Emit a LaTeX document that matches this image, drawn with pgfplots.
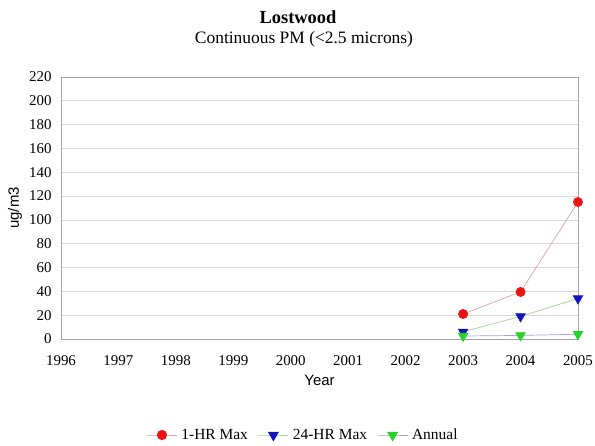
\documentclass[border=0pt]{standalone}
\usepackage{fontspec}
\setmainfont{Liberation Serif}
\newfontfamily\arialfont{Liberation Sans}
\usepackage{pgfplots}
\pgfplotsset{compat=1.18}

\definecolor{mkred}{RGB}{235,20,20}
\definecolor{lnred}{RGB}{225,160,165}
\definecolor{mkblue}{RGB}{20,20,190}
\definecolor{lngreen}{RGB}{160,210,150}
\definecolor{mkgreen}{RGB}{40,210,40}
\definecolor{lnblue}{RGB}{165,160,220}
\definecolor{gridgray}{RGB}{215,215,215}
\definecolor{axgray}{RGB}{165,165,165}

\begin{document}
\begin{tikzpicture}[x=1bp,y=1bp]
\useasboundingbox (-61,-107) rectangle (534,339);
\begin{axis}[
    at={(0,0)}, anchor=south west,
    scale only axis,
    width=517bp, height=262bp,
    xmin=1996, xmax=2005,
    ymin=0, ymax=220,
    xtick={1996,...,2005},
    ytick={0,20,...,220},
    x tick label style={/pgf/number format/1000 sep={}, font=\fontsize{15}{17}\selectfont, yshift=-13bp},
    y tick label style={font=\fontsize{15}{17}\selectfont, xshift=-6bp},
    /pgf/number format/assume math mode=true,
    major tick length=0pt,
    ymajorgrids,
    grid style={gridgray, line width=0.8pt},
    axis line style={axgray, line width=0.8pt},
    xlabel={\arialfont Year},
    every axis x label/.style={at={(axis description cs:0.5,0)}, anchor=center, yshift=-41bp,
        font=\fontsize{15}{17}\selectfont},
    ylabel={\arialfont ug/m3},
    every axis y label/.style={at={(axis description cs:0,0.5)}, anchor=center, rotate=90, yshift=46bp,
        font=\fontsize{15}{17}\selectfont},
    legend columns=3,
    legend style={at={(242bp,-96bp)}, anchor=center, draw=none, fill=none,
        font=\fontsize{15.5}{17}\selectfont,
        /tikz/every odd column/.append style={column sep=2bp},
        /tikz/every even column/.append style={column sep=8bp}},
    legend image code/.code={%
        \draw[mark repeat=2,mark phase=2,line width=1pt] plot coordinates {(0bp,0bp) (15bp,0bp) (30bp,0bp)};},
    legend cell align=left,
]
\addplot[lnred, line width=0.7pt, mark=*, mark size=4.6pt,
    mark options={draw=mkred, fill=mkred}]
    coordinates {(2003,21) (2004,39.5) (2005,115)};
\addlegendentry{1-HR Max}
\addplot[lngreen, line width=0.7pt, mark=triangle*, mark size=5.5pt,
    mark options={draw=mkblue, fill=mkblue, rotate=180}]
    coordinates {(2003,6) (2004,19) (2005,34)};
\addlegendentry{24-HR Max}
\addplot[lnblue, line width=0.7pt, mark=triangle*, mark size=5.5pt,
    mark options={draw=mkgreen, fill=mkgreen, rotate=180}]
    coordinates {(2003,2.5) (2004,3) (2005,4)};
\addlegendentry{Annual}
\end{axis}
\node[font=\bfseries\fontsize{18.5}{21}\selectfont] at (237,322) {Lostwood};
\node[font=\fontsize{17.5}{20}\selectfont] at (243,300) {Continuous PM (<2.5 microns)};
\end{tikzpicture}
\end{document}
